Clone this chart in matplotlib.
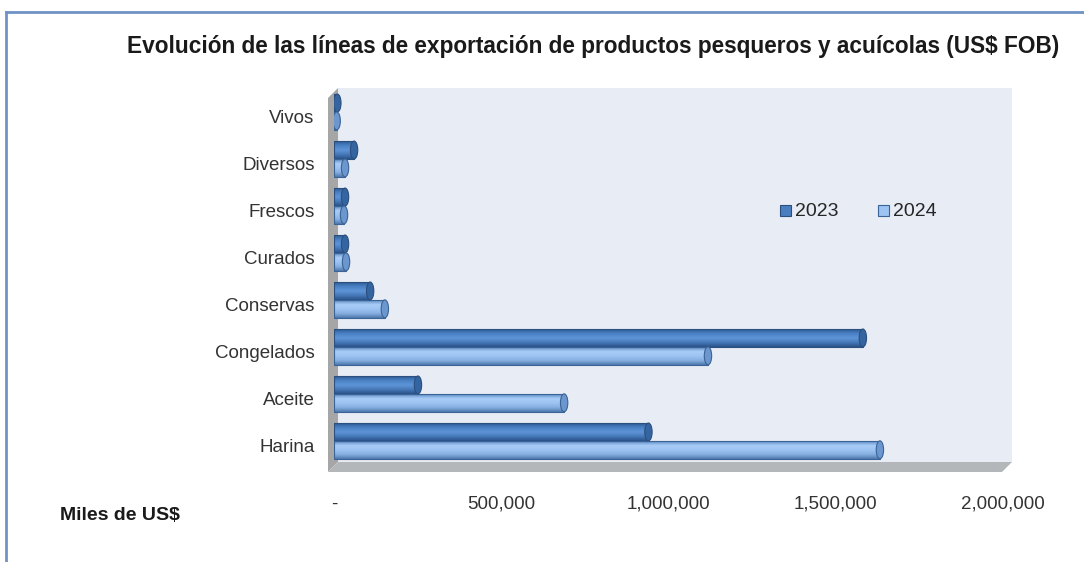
import numpy as np
import matplotlib.pyplot as plt
import matplotlib.transforms as mtransforms
from matplotlib.patches import Polygon, Rectangle, Ellipse
from matplotlib.colors import LinearSegmentedColormap

# Data (miles de US$)
categorias = ['Vivos', 'Diversos', 'Frescos', 'Curados', 'Conservas',
              'Congelados', 'Aceite', 'Harina']
v2023 = [10000, 60000, 33000, 33000, 108000, 1581000, 251000, 940000]
v2024 = [8000, 33000, 30000, 36000, 152000, 1118000, 688000, 1632000]
ticks = [0, 500000, 1000000, 1500000, 2000000]
tick_labels = ['-', '500,000', '1,000,000', '1,500,000', '2,000,000']

plt.rcParams['font.family'] = ['Liberation Sans', 'DejaVu Sans']

W, H = 1084, 562
fig = plt.figure(figsize=(W / 100, H / 100), dpi=100)


def fx(px):
    return px / W


def fy(py):
    return 1 - py / H


# outer frame lines
fig.add_artist(plt.Line2D([fx(6), fx(1084)], [fy(12), fy(12)], color='#6F93C6', lw=2))
fig.add_artist(plt.Line2D([fx(6), fx(6)], [fy(12), fy(562)], color='#6F93C6', lw=2))

# 3D walls
back = Polygon([(fx(338), fy(88)), (fx(1012), fy(88)), (fx(1012), fy(462)), (fx(338), fy(462))],
               closed=True, facecolor='#E8ECF5', edgecolor='none', transform=fig.transFigure, zorder=0)
left_wall = Polygon([(fx(328), fy(98)), (fx(338), fy(88)), (fx(338), fy(462)), (fx(328), fy(472))],
                    closed=True, facecolor='#A6A6A6', edgecolor='none', transform=fig.transFigure, zorder=0)
floor = Polygon([(fx(328), fy(472)), (fx(338), fy(462)), (fx(1012), fy(462)), (fx(1002), fy(472))],
                closed=True, facecolor='#B4B7BA', edgecolor='none', transform=fig.transFigure, zorder=0)
for p in (back, left_wall, floor):
    fig.add_artist(p)

ax = fig.add_axes([fx(334), fy(462), fx(1012) - fx(334), fy(88) - fy(462)])
ax.patch.set_alpha(0)
for s in ax.spines.values():
    s.set_visible(False)

xmax = 2000000 * (1012 - 334) / (1003 - 334)
h = 0.38
cm23 = LinearSegmentedColormap.from_list('c23', ['#2F5C94', '#4A82C6', '#5E95D8', '#4678B8', '#2A5288'])
cm24 = LinearSegmentedColormap.from_list('c24', ['#5F8CC4', '#A9CDF7', '#9CC3F2', '#86AEE0', '#4E78AE'])
grad = np.linspace(0, 1, 50).reshape(-1, 1)
cap_w = 22000

y = np.arange(len(categorias))
for vals, off, cmap, edge, capc in [(v2023, -h / 2, cm23, '#2B4F7E', '#3565A0'),
                                    (v2024, h / 2, cm24, '#3A6396', '#6C97CE')]:
    for yi, v in zip(y, vals):
        yc = yi + off
        ax.imshow(grad, cmap=cmap, aspect='auto', extent=[0, v, yc + h / 2, yc - h / 2],
                  zorder=2, interpolation='bilinear')
        ax.add_patch(Rectangle((0, yc - h / 2), v, h, facecolor='none', edgecolor=edge, lw=0.8, zorder=3))
        ax.add_patch(Ellipse((v, yc), cap_w, h, facecolor=capc, edgecolor=edge, lw=0.8, zorder=4))

ax.set_xlim(0, xmax)
ax.set_ylim(len(categorias) - 1 + 0.45, -0.51)
ax.set_yticks(y)
ax.set_yticklabels(categorias, fontsize=13.5, color='#333333')
ax.set_xticks(ticks)
ax.set_xticklabels(tick_labels, fontsize=13.5, color='#333333')
ax.tick_params(axis='both', length=0)
ax.tick_params(axis='x', pad=24)
ax.tick_params(axis='y', pad=14)
shift = mtransforms.ScaledTranslation(0, -0.05, fig.dpi_scale_trans)
for lbl in ax.get_yticklabels():
    lbl.set_transform(lbl.get_transform() + shift)

# legend
fig.add_artist(Rectangle((fx(780), fy(216)), 11 / W, 11 / H, transform=fig.transFigure,
                         facecolor='#4A7EBF', edgecolor='#2B4F7E', lw=0.8))
fig.text(fx(795), fy(211), '2023', fontsize=14, va='center', ha='left', color='#262626')
fig.add_artist(Rectangle((fx(878), fy(216)), 11 / W, 11 / H, transform=fig.transFigure,
                         facecolor='#9CC3F2', edgecolor='#3A6396', lw=0.8))
fig.text(fx(893), fy(211), '2024', fontsize=14, va='center', ha='left', color='#262626')

fig.text(fx(593), fy(47), 'Evolución de las líneas de exportación de productos pesqueros y acuícolas (US$ FOB)',
         fontsize=16.3, fontweight='bold', ha='center', va='center', color='#1A1A1A')
fig.text(fx(60), fy(516), 'Miles de US$', fontsize=14, fontweight='bold', ha='left', va='center', color='#1A1A1A')

fig.savefig('out.png', dpi=100)
